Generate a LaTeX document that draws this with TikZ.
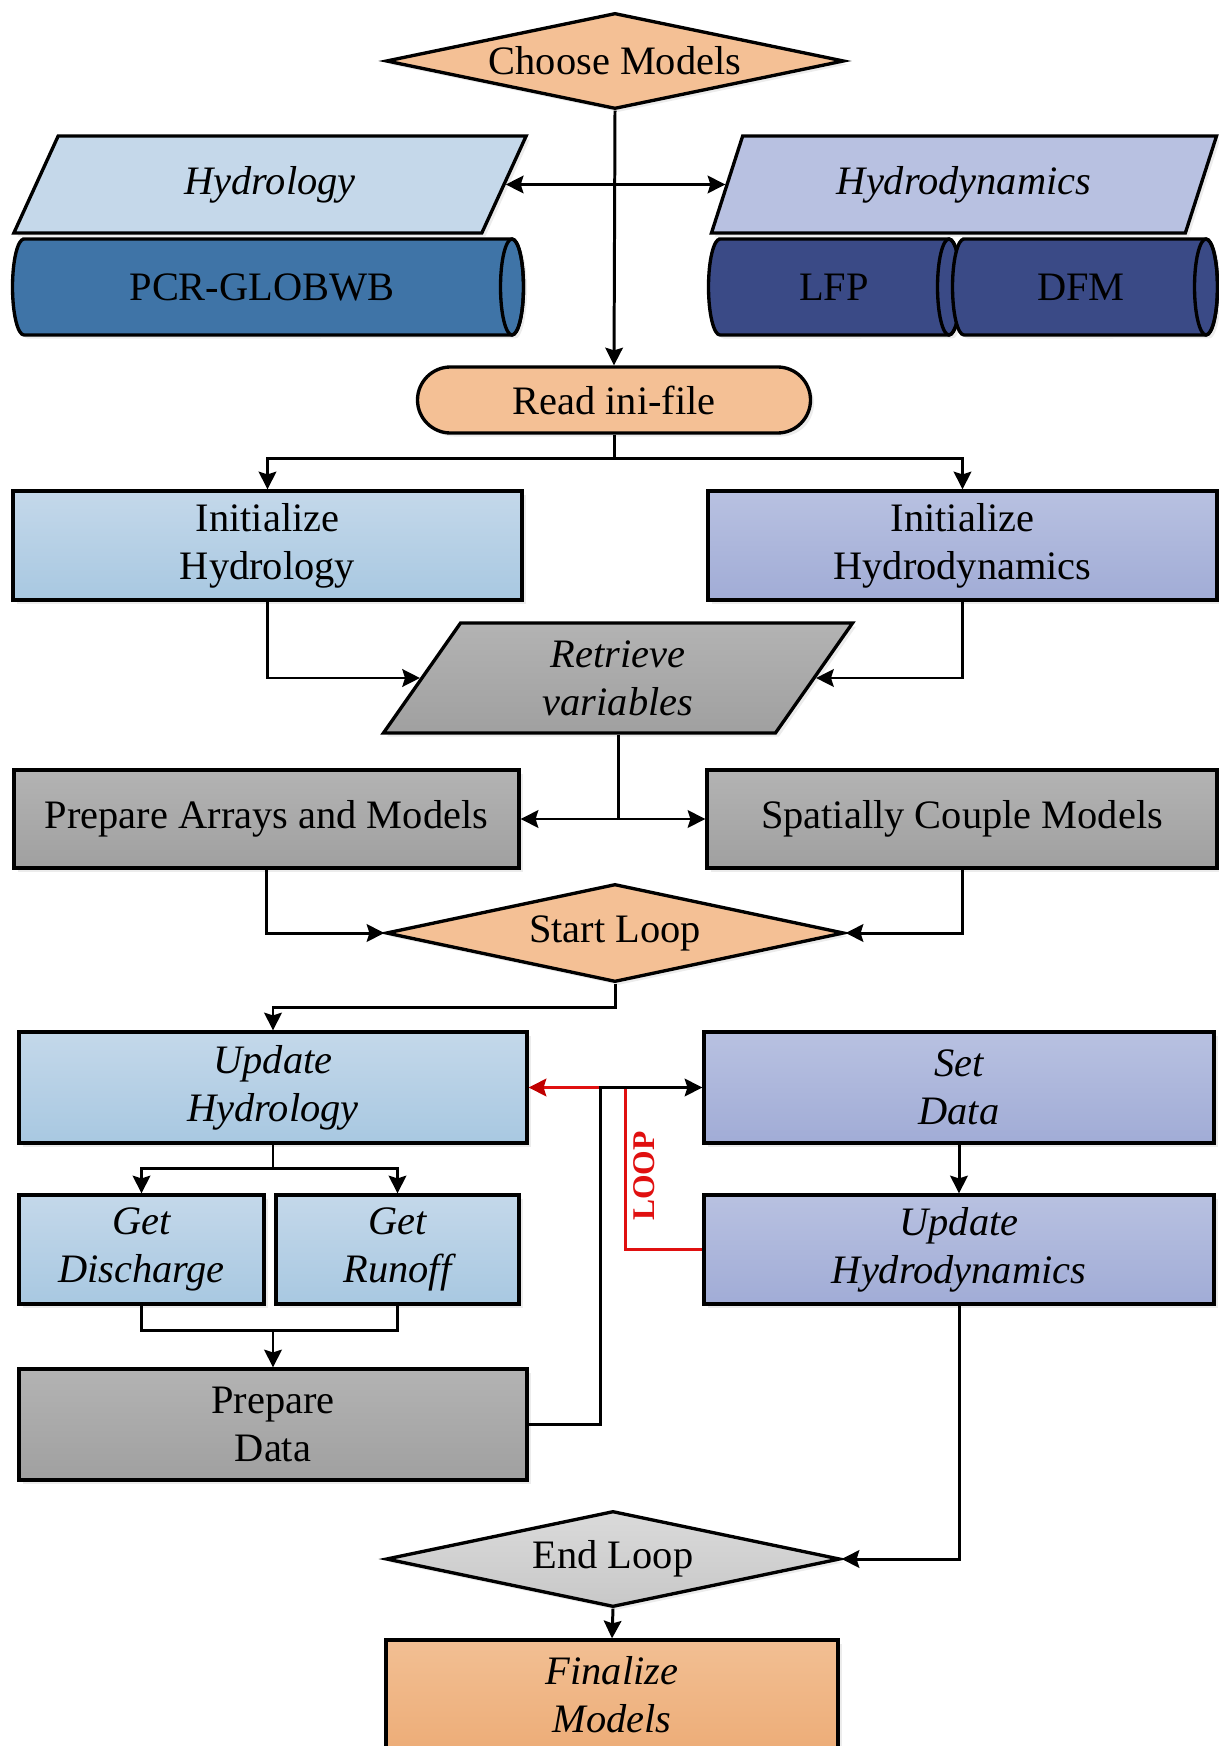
\documentclass[tikz,border=0pt]{standalone}
\usepackage{fontspec}
\setmainfont{Liberation Serif}
\usepackage{xcolor}
\usepackage{tikz}
\usetikzlibrary{shapes.geometric,shapes.misc,arrows.meta,shadows}

\definecolor{orangefill}{HTML}{F4C095}
\definecolor{orangetop}{HTML}{F2BF93}
\definecolor{orangebot}{HTML}{EDAD78}
\definecolor{hydlight}{HTML}{C5D8EA}
\definecolor{hydtop}{HTML}{C4D8EA}
\definecolor{hydbot}{HTML}{A8C8E1}
\definecolor{dynlight}{HTML}{B8C1E1}
\definecolor{dyntop}{HTML}{B8C1E1}
\definecolor{dynbot}{HTML}{A1ACD6}
\definecolor{pcrblue}{HTML}{3F74A7}
\definecolor{dfmblue}{HTML}{3A4A86}
\definecolor{graytop}{HTML}{B3B3B3}
\definecolor{graybot}{HTML}{A0A0A0}
\definecolor{endtop}{HTML}{DADADA}
\definecolor{endbot}{HTML}{C8C8C8}
\definecolor{loopred}{HTML}{E01010}
\definecolor{loopdark}{HTML}{C00000}

% drum: centre x, centre y, half body width, colour (in pixel units)
\newcommand{\drum}[4]{%
	\draw[base, fill=#4] (#1-#3,#2-48) -- (#1+#3,#2-48)
		arc[start angle=90, end angle=-90, x radius=0.23cm, y radius=0.96cm]
		-- (#1-#3,#2+48)
		arc[start angle=270, end angle=90, x radius=0.23cm, y radius=0.96cm] -- cycle;
	\draw[line width=1.9pt] (#1+#3,#2) ellipse[x radius=0.23cm, y radius=0.96cm];}

\begin{document}
\begin{tikzpicture}[x=0.02cm, y=-0.02cm,
			>={Stealth[length=10pt,width=10pt,inset=1.5pt]},
			every node/.style={font=\fontsize{23}{27.5}\selectfont, align=center, inner sep=0pt},
			it/.style={font=\fontsize{23}{27.5}\selectfont\itshape},
			sz/.style 2 args={minimum width=#1*0.02cm, minimum height=#2*0.02cm},
			base/.style={draw=black, line width=1.9pt, drop shadow={shadow xshift=2pt, shadow yshift=-2pt, opacity=0.15}},
			box/.style={base, rectangle},
			diam/.style={base, diamond, aspect=4.8},
			para/.style={base, trapezium, trapezium left angle=64, trapezium right angle=116, trapezium stretches=true},
			pill/.style={base, rounded rectangle},
			line/.style={line width=1.7pt}]
			\useasboundingbox (0,0) rectangle (1219,1746);

			\node[diam, sz={458}{96}, fill=orangefill] (choose) at (615,61) {Choose Models};
			\node[para, it, sz={513}{97}, fill=hydlight] (hydrol) at (270,184.5) {Hydrology};
			\node[para, it, sz={506}{97}, fill=dynlight] (hydrodyn) at (964,184.5) {Hydrodynamics};
			\drum{268}{287}{244}{pcrblue}
			\drum{834.5}{287}{114.5}{dfmblue}
			\drum{1085}{287}{121}{dfmblue}
			\node (pcr) at (262,287) {PCR-GLOBWB};
			\node (lfp) at (834,287) {LFP};
			\node (dfm) at (1081,287) {DFM};
			\node[pill, sz={393}{66}, fill=orangefill] (readini) at (614,400) {Read ini-file};

			\node[box, sz={509}{109}, top color=hydtop, bottom color=hydbot] (inithyd) at (267.5,545.5) {Initialize\\Hydrology};
			\node[box, sz={509}{109}, top color=dyntop, bottom color=dynbot] (initdyn) at (962.5,545.5) {Initialize\\Hydrodynamics};
			\node[para, it, sz={470}{110}, top color=graytop, bottom color=graybot] (retrieve) at (618,678) {Retrieve\\variables};
			\node[box, sz={505}{98}, top color=graytop, bottom color=graybot] (prepare) at (266.5,819) {Prepare Arrays and Models};
			\node[box, sz={510}{98}, top color=graytop, bottom color=graybot] (couple) at (962,819) {Spatially Couple Models};
			\node[diam, sz={458}{98}, fill=orangefill] (startloop) at (615,933) {Start Loop};

			\node[box, it, sz={508}{111}, top color=hydtop, bottom color=hydbot] (updhyd) at (273,1087.5) {Update\\Hydrology};
			\node[box, it, sz={510}{111}, top color=dyntop, bottom color=dynbot] (setdata) at (959,1087.5) {Set\\Data};
			\node[box, it, sz={245}{109}, top color=hydtop, bottom color=hydbot] (getdis) at (141.5,1249.5) {Get\\Discharge};
			\node[box, it, sz={243}{109}, top color=hydtop, bottom color=hydbot] (getrun) at (397.5,1249.5) {Get\\Runoff};
			\node[box, it, sz={510}{109}, top color=dyntop, bottom color=dynbot] (upddyn) at (959,1249.5) {Update\\Hydrodynamics};
			\node[box, sz={508}{111}, top color=graytop, bottom color=graybot] (prepdata) at (273,1424.5) {Prepare\\Data};
			\node[diam, sz={454}{96}, top color=endtop, bottom color=endbot] (endloop) at (613,1559) {End Loop};
			\node[box, it, sz={452}{110}, top color=orangetop, bottom color=orangebot] (finalize) at (612,1695) {Finalize\\Models};

			\coordinate (junction) at (600,1087.5);
			\coordinate (loopturn) at (625,1087.5);

			\draw[line, ->] (choose.south) -- (readini.north);
			\draw[line, <->] (hydrol.east) -- (hydrodyn.west);
			\draw[line, ->] (readini.south) -- ++(0,24) -| (inithyd.north);
			\draw[line, ->] (readini.south) -- ++(0,24) -| (initdyn.north);
			\draw[line, ->] (inithyd.south) |- (retrieve.west);
			\draw[line, ->] (initdyn.south) |- (retrieve.east);
			\draw[line, ->] (retrieve.south) |- (prepare.east);
			\draw[line, ->] (retrieve.south) |- (couple.west);
			\draw[line, ->] (prepare.south) |- (startloop.west);
			\draw[line, ->] (couple.south) |- (startloop.east);
			\draw[line, ->] (startloop.south) -- ++(0,24) -| (updhyd.north);
			\draw[line, ->] (updhyd.south) -- ++(0,24) -| (getdis.north);
			\draw[line, ->] (updhyd.south) -- ++(0,24) -| (getrun.north);
			\draw[line] (getdis.south) -- ++(0,25) -| (getrun.south);
			\draw[line, ->] (prepdata.north |- getdis.south) ++(0,25) -- (prepdata.north);
			\draw[line, ->] (setdata.south) -- (upddyn.north);
			\draw[line, ->] (upddyn.south) |- (endloop.east);
			\draw[line, ->] (endloop.south) -- (finalize.north);

			\draw[line, loopred, -{Stealth[length=10pt,width=10pt,inset=1.5pt,color=loopdark]}] (upddyn.west) -| (loopturn) -- (updhyd.east);
			\draw[line, ->] (prepdata.east) -| (junction) -- (setdata.west);
			\node[rotate=90, text=loopred, font=\fontsize{18}{18}\selectfont\bfseries] (looplabel) at (644,1176) {LOOP};
		\end{tikzpicture}
\end{document}
